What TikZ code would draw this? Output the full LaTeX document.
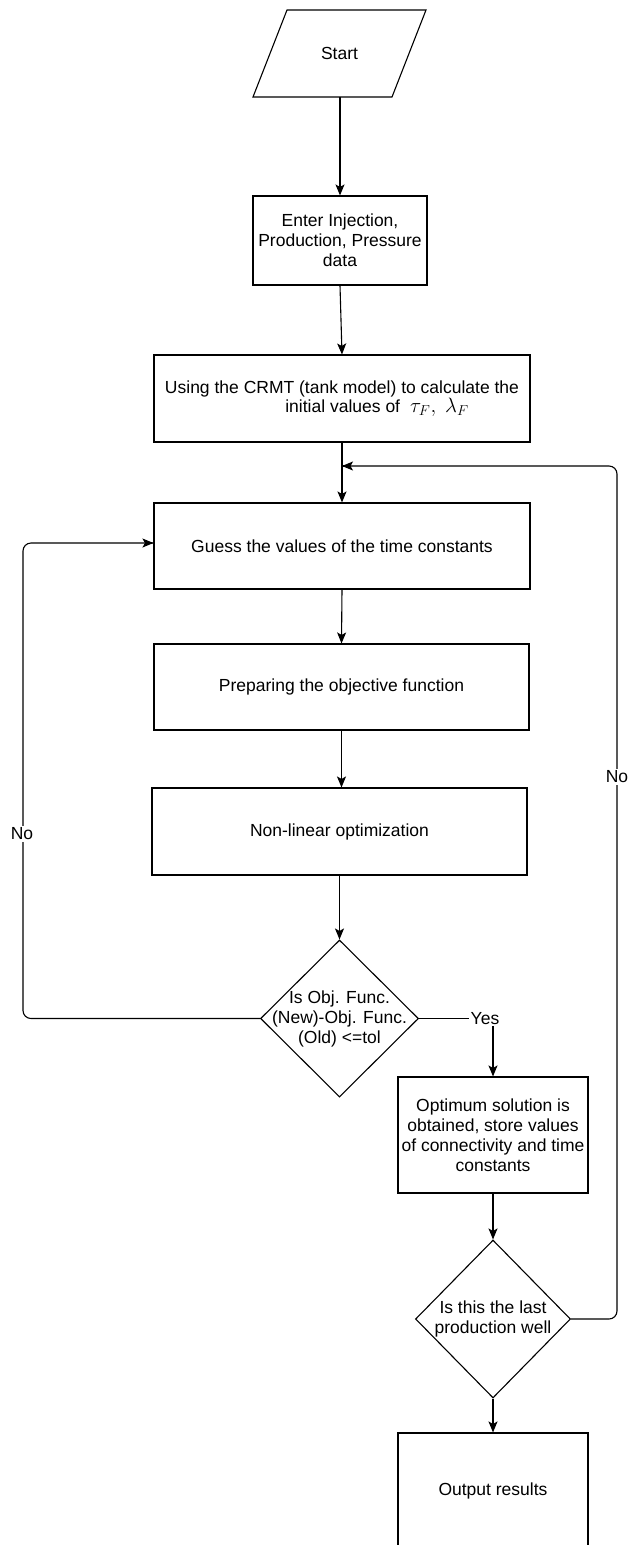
\documentclass[tikz,border=0pt]{standalone}
\usepackage{fontspec}
\setmainfont{Liberation Sans}
\usetikzlibrary{shapes.geometric,arrows.meta,calc}
\begin{document}
\begin{tikzpicture}[x=1pt,y=-1pt,
  font=\fontsize{17.5}{20}\selectfont,
  box/.style={draw, rectangle, line width=1.1pt, align=center, inner sep=2pt},
  dia/.style={draw, diamond, line width=1.1pt, inner sep=0pt, aspect=1},
  txt/.style={align=center, inner sep=0pt},
  arr/.style={-{Stealth[length=11pt,width=9pt,inset=2.5pt]}, line width=1.1pt},
  ln/.style={line width=1.1pt, rounded corners=8pt},
  lbl/.style={fill=white, inner sep=1.5pt}]
\useasboundingbox (0,0) rectangle (627,1545);

% Start (parallelogram)
\draw[line width=1.1pt, line join=miter] (287,10) -- (426,10) -- (392,97) -- (253,97) -- cycle;
\node[txt] (start) at (339.5,53.5) {Start};
\coordinate (startb) at (340,97);

\node[box, minimum width=376, minimum height=87] (crmt) at (342,398.5)
  {Using the CRMT (tank model) to calculate the\\[-1pt]
   \hspace*{70pt}initial values of\hspace{10pt}\fontsize{20}{20}\selectfont$\tau_F,\ \lambda_F$};

\node[box, minimum width=174, minimum height=89] (enter) at (340,240.5)
  {Enter Injection,\\Production, Pressure\\data};

\node[box, minimum width=376, minimum height=86] (guess) at (342,546)
  {Guess the values of the time constants};

\node[box, minimum width=375, minimum height=86] (prep) at (341.5,687)
  {Preparing the objective function};

\node[box, minimum width=375, minimum height=87] (nonlin) at (339.5,831.5)
  {Non-linear optimization};

\node[dia, minimum width=158, minimum height=157] (d1) at (339.5,1018.5) {};
\node[txt] (d1t) at (d1.center) {Is Obj. Func.\\(New)-Obj. Func.\\(Old) <=tol};

\node[box, minimum width=190, minimum height=116] (opt) at (493,1135)
  {Optimum solution is\\obtained, store values\\of connectivity and time\\constants};

\node[dia, minimum width=155, minimum height=158] (d2) at (493,1319) {};
\node[txt] (d2t) at (d2.center) {Is this the last\\production well};

\node[box, minimum width=190, minimum height=115] (out) at (493,1490.5)
  {Output results};

% connectors
\draw[arr] (startb) -- (enter.north);
\draw[arr] (enter.south) -- (crmt.north);
\draw[arr] (crmt.south) -- (guess.north);
\draw[arr] (guess.south) -- (prep.north);
\draw[arr] (prep.south) -- (prep.south |- nonlin.north);
\draw[arr] (nonlin.south) -- (d1.north);
\draw[ln] (d1.east) -- (opt.north |- d1.east);
\draw[arr] (opt.north |- d1.east) -- (opt.north);
\node[lbl] (yes) at (485,1018.5) {Yes};
\draw[arr] (opt.south) -- (d2.north);
\draw[arr] (d2.south) -- (out.north);

% No loop (left)
\coordinate (lc) at (23,543);
\draw[ln] (d1.west) -- (lc |- d1.west) -- (lc) -- (guess.west |- lc);
\draw[arr] ($(guess.west |- lc)+(-1,0)$) -- (guess.west |- lc);
\node[lbl] (noleft) at (22,834) {No};

% No loop (right)
\coordinate (rc) at (617,466);
\coordinate (merge) at (crmt.south |- rc);
\draw[ln] (d2.east) -- (rc |- d2.east) -- (rc) -- (merge);
\draw[arr] ($(merge)+(1,0)$) -- (merge);
\node[lbl] (noright) at (617,777) {No};
\end{tikzpicture}
\end{document}
